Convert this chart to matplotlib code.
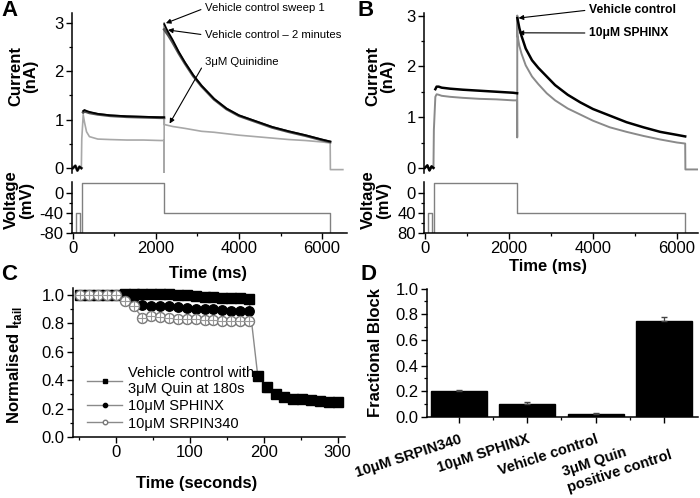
import numpy as np
import matplotlib.pyplot as plt
from matplotlib.ticker import MultipleLocator, FixedLocator

plt.rcParams['font.family'] = ['Liberation Sans', 'DejaVu Sans']
plt.rcParams['mathtext.fontset'] = 'custom'
plt.rcParams['mathtext.rm'] = 'Liberation Sans'
plt.rcParams['mathtext.bf'] = 'Liberation Sans:bold'
plt.rcParams['axes.linewidth'] = 1.1

W, H = 700, 498
nan = np.nan  # gaps where the fast transients were only drawn by the grey sweep

# ---- panels A / B : current traces (time ms, current nA)
trace_t = [0, 60, 110, 160, 205, 215, 250, 280, 330, 400, 600, 900, 1300, 1700,
           2100, 2195, 2198, 2200, 2202, 2250, 2300, 2400, 2550, 2700, 2900, 3100,
           3400, 3700, 4000, 4400, 4800, 5200, 5600, 6000, 6195, 6200, 6500]
a_sweep1 = [0, 0.05, -0.05, 0.03, 0, nan, 1.18, 1.2, 1.18, 1.16, 1.12, 1.09, 1.07, 1.06,
            1.05, 1.05, nan, nan, 2.97, 2.88, 2.8, 2.65, 2.4, 2.18, 1.92, 1.7,
            1.43, 1.23, 1.09, 0.97, 0.85, 0.76, 0.68, 0.59, 0.55, nan, -0.03]
a_min2 = [0, 0.05, -0.05, 0.03, 0, nan, 1.15, 1.17, 1.16, 1.14, 1.11, 1.08, 1.06, 1.05,
          1.04, 1.04, nan, nan, 2.86, 2.8, 2.74, 2.6, 2.37, 2.16, 1.9, 1.69,
          1.42, 1.22, 1.08, 0.96, 0.84, 0.75, 0.67, 0.58, 0.54, nan, -0.03]
a_quin = [0, 0.05, -0.05, 0.03, 0, 0.6, 1.1, 0.95, 0.75, 0.65, 0.6, 0.59, 0.58, 0.58,
          0.57, 0.57, -0.1, 3.0, 0.9, 0.89, 0.88, 0.86, 0.84, 0.82, 0.79, 0.76,
          0.74, 0.71, 0.68, 0.65, 0.62, 0.59, 0.57, 0.54, 0.52, -0.03, -0.03]
b_vehicle = [0, 0.05, -0.05, 0.03, 0, nan, 1.55, 1.6, 1.6, 1.58, 1.56, 1.54, 1.52, 1.5,
             1.48, 1.47, nan, nan, 2.95, 2.75, 2.6, 2.35, 2.12, 1.97, 1.8, 1.63,
             1.44, 1.29, 1.16, 1.03, 0.9, 0.8, 0.71, 0.65, 0.62, nan, -0.03]
b_sphinx = [0, 0.05, -0.05, 0.03, 0, 0.75, 1.4, 1.45, 1.44, 1.42, 1.4, 1.38, 1.36, 1.35,
            1.33, 1.33, 0.6, 3.0, 2.62, 2.4, 2.25, 2.02, 1.8, 1.65, 1.47, 1.33,
            1.17, 1.05, 0.93, 0.8, 0.71, 0.63, 0.56, 0.5, 0.48, -0.03, -0.03]

# voltage protocol (step edges)
volt_t = [0, 70, 165, 210, 2200, 6200, 6500]
volt_mv = [-80, -40, -80, 20, -40, -80, -80]

# ---- panel C : normalised tail current
c_time = [-48, -36, -24, -12, 0, 12, 24, 36, 48, 60, 72, 84, 96, 108, 120,
          132, 144, 156, 168, 180]
c_time_quin = [192, 204, 216, 228, 240, 252, 264, 276, 288, 300]
vehicle = [1.0, 1.0, 1.0, 1.0, 1.0, 1.005, 1.01, 1.01, 1.01, 1.008, 1.005, 1.0,
           0.998, 0.995, 0.99, 0.987, 0.983, 0.98, 0.978, 0.975]
vehicle_quin = [0.43, 0.35, 0.30, 0.28, 0.27, 0.265, 0.26, 0.255, 0.248, 0.245]
vehicle_quin_err = [0.03, 0.03, 0.025, 0.02, 0.02, 0.02, 0.02, 0.02, 0.02, 0.02]
sphinx = [1.0, 1.0, 1.0, 1.0, 1.0, 0.995, 0.985, 0.93, 0.925, 0.925, 0.92, 0.915,
          0.91, 0.905, 0.9, 0.9, 0.895, 0.89, 0.89, 0.885]
srpin = [1.0, 1.0, 1.0, 1.0, 1.0, 0.955, 0.92, 0.84, 0.85, 0.845, 0.84, 0.835,
         0.83, 0.83, 0.825, 0.825, 0.82, 0.82, 0.82, 0.815]
c_err = 0.015

# ---- panel D : fractional block
d_labels = ['10μM SRPIN340', '10μM SPHINX', 'Vehicle control', '3μM Quin\npositive control']
d_block = [0.20, 0.105, 0.025, 0.75]
d_err = [0.01, 0.012, 0.008, 0.025]


fig = plt.figure(figsize=(7.0, 4.98), dpi=100)


def px_axes(left, top, right, bottom):
    return fig.add_axes([left / W, 1 - bottom / H, (right - left) / W, (bottom - top) / H])


def px_text(x, y, s, **kw):
    return fig.text(x / W, 1 - y / H, s, **kw)


def style(ax, spines=('left', 'bottom')):
    for side in ('left', 'right', 'top', 'bottom'):
        ax.spines[side].set_visible(side in spines)
    ax.tick_params(which='major', direction='out', length=4, width=1.0, labelsize=12, pad=2)
    ax.tick_params(which='minor', direction='out', length=2.5, width=0.9)


def current_panel(left, right, ylim_top, xlim, traces, vlabels):
    ax = px_axes(left, 13, right, 173)
    for y, col, lw in traces:
        ax.plot(trace_t, y, color=col, lw=lw)
    ax.set_xlim(*xlim)
    ax.set_ylim(-0.1, ylim_top)
    style(ax, spines=('left',))
    ax.set_xticks([])
    ax.set_yticks([0, 1, 2, 3])
    ax.yaxis.set_minor_locator(MultipleLocator(0.5))

    axv = px_axes(left, 182.5, right, 233)
    axv.plot(volt_t, volt_mv, drawstyle='steps-post', color='#808080', lw=1.0)
    axv.set_xlim(*xlim)
    axv.set_ylim(-80, 21)
    style(axv)
    axv.set_yticks([0, -40, -80])
    axv.set_yticklabels(vlabels)
    axv.yaxis.set_minor_locator(FixedLocator([-20, -60]))
    axv.set_xticks([0, 2000, 4000, 6000])
    axv.xaxis.set_minor_locator(FixedLocator([1000, 3000, 5000]))
    return ax, axv


# ---------------- panel A
axA, axAv = current_panel(72, 347, 3.2, (-20, 6600),
                          [(a_quin, '#a8a8a8', 1.2), (a_min2, '#505050', 2.0),
                           (a_sweep1, 'black', 1.3)],
                          ['0', '-40', '-80'])
arrow = dict(arrowstyle='-|>', lw=0.8, color='black', mutation_scale=7,
             shrinkA=1, shrinkB=0)
for label, xy, ytxt in [('Vehicle control sweep 1', (2240, 2.99), 8),
                        ('Vehicle control – 2 minutes', (2290, 2.85), 35),
                        ('3μM Quinidine', (2330, 0.92), 62)]:
    axA.annotate(label, xy=xy, xytext=(205, H - ytxt), textcoords='figure pixels',
                 ha='left', va='center', fontsize=8.2,
                 arrowprops=dict(arrow, relpos=(0, 0.5)))

# ---------------- panel B
axB, axBv = current_panel(424, 698, 3.05, (-20, 6500),
                          [(b_sphinx, '#8a8a8a', 1.4), (b_vehicle, 'black', 1.8)],
                          ['0', '40', '80'])
for label, xy, ytxt in [('Vehicle control', (2230, 2.95), 10),
                        ('10μM SPHINX', (2230, 2.66), 33)]:
    axB.annotate(label, xy=xy, xytext=(589, H - ytxt), textcoords='figure pixels',
                 ha='left', va='center', fontsize=8.7, fontweight='bold',
                 arrowprops=dict(arrow, relpos=(0, 0.5)))

for xc in (23, 380):
    px_text(xc, 76, 'Current\n(nA)', rotation=90, ha='center', va='center',
            fontsize=12, fontweight='bold', linespacing=1.0)
    px_text(xc - 4, 200, 'Voltage\n(mV)', rotation=90, ha='center', va='center',
            fontsize=12, fontweight='bold', linespacing=1.0)
px_text(208, 273, 'Time (ms)', ha='center', va='center', fontsize=12, fontweight='bold')
px_text(548, 267, 'Time (ms)', ha='center', va='center', fontsize=12, fontweight='bold')

# ---------------- panel C
axC = px_axes(73, 288, 345, 437)
gray = '#8a8a8a'
axC.errorbar(c_time + c_time_quin, vehicle + vehicle_quin,
             yerr=[c_err] * len(c_time) + vehicle_quin_err,
             fmt='none', ecolor='#a0a0a0', elinewidth=0.8, capsize=2, zorder=1)
axC.plot(c_time + c_time_quin, vehicle + vehicle_quin, '-', color=gray, lw=1,
         marker='s', ms=6.8, mfc='black', mec='black', zorder=2,
         label='Vehicle control with\n3μM Quin at 180s')
axC.plot(c_time, sphinx, '-', color=gray, lw=1, marker='o', ms=6.8,
         mfc='black', mec='black', zorder=3, label='10μM SPHINX')
axC.plot(c_time, srpin, '-', color=gray, lw=1, marker='o', ms=7.2,
         mfc='white', mec='#777777', mew=1.0, zorder=4, label='10μM SRPIN340')
axC.plot(c_time, srpin, ls='none', marker='+', ms=7, color='#999999', mew=0.8, zorder=5)
axC.set_xlim(-58, 310)
axC.set_ylim(0, 1.05)
style(axC)
axC.set_xticks([0, 100, 200, 300])
axC.xaxis.set_minor_locator(FixedLocator([-50, 50, 150, 250]))
axC.set_yticks([0, 0.2, 0.4, 0.6, 0.8, 1.0])
axC.set_yticklabels(['0.0', '0.2', '0.4', '0.6', '0.8', '1.0'])
axC.yaxis.set_minor_locator(MultipleLocator(0.1))
axC.legend(loc='lower left', bbox_to_anchor=(0.015, -0.025), frameon=False,
           fontsize=10.5, markerscale=0.45, handlelength=2.4, handletextpad=0.4,
           labelspacing=0.22, borderpad=0.2)
px_text(197, 483, 'Time (seconds)', ha='center', va='center', fontsize=12, fontweight='bold')
px_text(15, 365, r'Normalised I$_{\mathbf{tail}}$', rotation=90, ha='center', va='center',
        fontsize=12, fontweight='bold')

# ---------------- panel D
axD = px_axes(427, 288.5, 698, 417)
pos = np.arange(1, len(d_block) + 1)
axD.bar(pos, d_block, width=0.82, color='black', edgecolor='black')
axD.errorbar(pos, d_block, yerr=[np.zeros(len(d_err)), d_err], fmt='none',
             ecolor='#444444', elinewidth=0.9, capsize=2.5)
axD.set_xlim(0.53, 4.5)
axD.set_ylim(0, 1.0)
style(axD)
axD.set_yticks([0, 0.2, 0.4, 0.6, 0.8, 1.0])
axD.set_yticklabels(['0.0', '0.2', '0.4', '0.6', '0.8', '1.0'])
axD.yaxis.set_minor_locator(MultipleLocator(0.1))
axD.set_xticks(pos)
axD.set_xticklabels(d_labels, rotation=18, ha='right', rotation_mode='anchor',
                    fontsize=10.5, fontweight='bold', multialignment='left')
axD.tick_params(axis='x', which='major', pad=7)
axD.xaxis.set_minor_locator(FixedLocator([1.5, 2.5, 3.5]))
px_text(376, 353, 'Fractional Block', rotation=90, ha='center', va='center',
        fontsize=12, fontweight='bold')

# panel letters
for letter, x, y in [('A', 10, 10), ('B', 366, 11), ('C', 9, 275), ('D', 368, 274)]:
    px_text(x, y, letter, ha='center', va='center', fontsize=16, fontweight='bold')

fig.savefig('out.png', dpi=100)
